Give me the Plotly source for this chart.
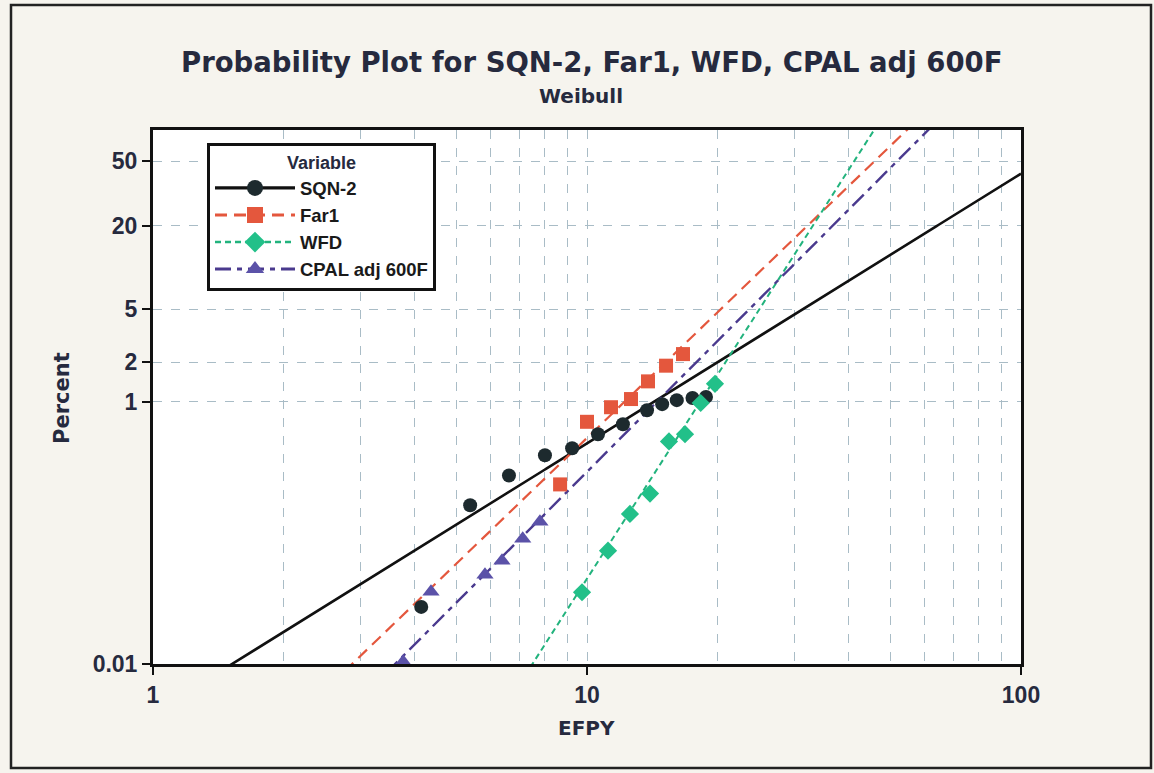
import numpy as np
import plotly.graph_objects as go

# ---------------- data ----------------
SERIES = ["SQN-2", "Far1", "WFD", "CPAL adj 600F"]

SQN2_X = [4.15, 5.38, 6.61, 8.00, 9.24, 10.6, 12.1, 13.75, 14.9, 16.1, 17.5, 18.8]
SQN2_P = [0.0273, 0.163, 0.275, 0.392, 0.443, 0.567, 0.676, 0.864, 0.96, 1.03, 1.07, 1.09]

FAR1_X = [8.67, 10.0, 11.36, 12.63, 13.82, 15.21, 16.64]
FAR1_P = [0.235, 0.705, 0.91, 1.05, 1.43, 1.88, 2.30]

WFD_X = [9.74, 11.18, 12.56, 13.97, 15.45, 16.82, 18.28, 19.72]
WFD_P = [0.0353, 0.0734, 0.140, 0.200, 0.50, 0.567, 0.98, 1.37]

CPAL_X = [3.77, 4.37, 5.82, 6.37, 7.11, 7.79]
CPAL_P = [0.0104, 0.0356, 0.048, 0.0615, 0.0906, 0.122]

# fitted Weibull parameters (shape, scale) of the drawn lines
FIT_SHAPE = [2.06, 3.19, 5.18, 3.32]
FIT_SCALE = [133.0, 51.6, 44.3, 57.9]

Y_TICKS = [0.01, 1, 2, 5, 20, 50]
Y_TICK_TEXT = ["0.01", "1", "2", "5", "20", "50"]
X_TICKS = [1, 10, 100]
X_TICK_TEXT = ["1", "10", "100"]
X_MINOR = [2, 3, 4, 5, 6, 7, 8, 9, 20, 30, 40, 50, 60, 70, 80, 90]

TITLE = "Probability Plot for SQN-2, Far1, WFD, CPAL adj 600F"
SUBTITLE = "Weibull"


def wb(pct):
    p = np.asarray(pct, dtype=float) / 100.0
    return np.log(-np.log(1.0 - p))


# ---------------- styles ----------------
COLORS_MK = ["#1d2a2e", "#e4573d", "#22c089", "#5b52a8"]
COLORS_LN = ["#111111", "#e4573d", "#22b37d", "#4a3a8e"]
SYMBOLS = ["circle", "square", "diamond", "triangle-up"]
DASHES = ["solid", "12px,7px", "6px,4px", "16px,6px,5px,6px"]
LWIDTH = [2.6, 2.2, 2.0, 2.4]
MSIZE = [14, 14, 14, 15]

xs_data = [SQN2_X, FAR1_X, WFD_X, CPAL_X]
ps_data = [SQN2_P, FAR1_P, WFD_P, CPAL_P]

fig = go.Figure()
xline = np.logspace(0, 2, 400)
for i, name in enumerate(SERIES):
    wline = FIT_SHAPE[i] * (np.log(xline) - np.log(FIT_SCALE[i]))
    fig.add_trace(go.Scatter(x=xline, y=wline, mode="lines", showlegend=False,
                             line=dict(color=COLORS_LN[i], width=LWIDTH[i], dash=DASHES[i]),
                             hoverinfo="skip"))
for i, name in enumerate(SERIES):
    fig.add_trace(go.Scatter(x=xs_data[i], y=wb(ps_data[i]), mode="markers", showlegend=False,
                             cliponaxis=False, name=name,
                             marker=dict(symbol=SYMBOLS[i], size=MSIZE[i], color=COLORS_MK[i],
                                         line=dict(width=0))))
for i, name in enumerate(SERIES):
    fig.add_trace(go.Scatter(x=[None], y=[None], mode="lines+markers", name=name,
                             line=dict(color=COLORS_LN[i], width=LWIDTH[i] + 0.6, dash=DASHES[i]),
                             marker=dict(symbol=SYMBOLS[i], size=MSIZE[i] + 2, color=COLORS_MK[i])))

W, H = 1154, 773
L, R, T, B = 153, 133, 130, 109
PW, PH = W - L - R, H - T - B


def ux(px):
    return (px - L) / PW


def vy(py):
    return (H - B - py) / PH


FONT = "Liberation Sans, Arial, sans-serif"
HFONT = "DejaVu Sans, Liberation Sans, sans-serif"
TXT = "#262a3e"
GRID = "#a9bcc6"
BG = "#f6f4ee"

fig.update_layout(
    width=W, height=H,
    margin=dict(l=L, r=R, t=T, b=B),
    paper_bgcolor=BG,
    plot_bgcolor="white",
    font=dict(family=FONT, color=TXT),
    xaxis=dict(type="log", range=[0, 2], tickvals=X_TICKS, ticktext=X_TICK_TEXT,
               ticks="outside", ticklen=8, tickwidth=2, tickcolor="#111",
               tickfont=dict(size=23, weight="bold", color=TXT),
               showline=True, linewidth=3, linecolor="#111", mirror=True,
               showgrid=True, gridcolor=GRID, griddash="dash", gridwidth=1.2,
               minor=dict(tickvals=X_MINOR, showgrid=True, gridcolor=GRID,
                          griddash="dash", gridwidth=1.2, ticks=""),
               zeroline=False),
    yaxis=dict(range=[float(wb(0.01)), 0.18], tickvals=list(wb(Y_TICKS)), ticktext=Y_TICK_TEXT,
               ticks="outside", ticklen=8, tickwidth=2, tickcolor="#111",
               tickfont=dict(size=23, weight="bold", color=TXT),
               showline=True, linewidth=3, linecolor="#111", mirror=True,
               showgrid=True, gridcolor=GRID, griddash="dash", gridwidth=1.2,
               zeroline=False),
    legend=dict(x=ux(207), y=vy(143), xanchor="left", yanchor="top",
                bgcolor="white", bordercolor="#111", borderwidth=3,
                font=dict(size=18.5, weight="bold", color="#1a1a1a", family=FONT),
                title=dict(text="Variable", side="top center",
                           font=dict(size=18, weight="bold", color=TXT, family=FONT)),
                itemwidth=80, tracegroupgap=0),
    annotations=[
        dict(text="<b>" + TITLE + "</b>", x=ux(591), y=vy(62), xref="paper", yref="paper",
             showarrow=False, xanchor="center", yanchor="middle",
             font=dict(size=27.5, color=TXT, family=HFONT)),
        dict(text="<b>" + SUBTITLE + "</b>", x=ux(581), y=vy(96), xref="paper", yref="paper",
             showarrow=False, xanchor="center", yanchor="middle",
             font=dict(size=20, color=TXT, family=HFONT)),
        dict(text="<b>Percent</b>", x=ux(62), y=vy(398), xref="paper", yref="paper",
             showarrow=False, textangle=-90, xanchor="center", yanchor="middle",
             font=dict(size=21, color=TXT, family=HFONT)),
        dict(text="<b>EFPY</b>", x=ux(586), y=vy(728), xref="paper", yref="paper",
             showarrow=False, xanchor="center", yanchor="middle",
             font=dict(size=20, color=TXT, family=HFONT)),
    ],
    shapes=[
        dict(type="rect", xref="paper", yref="paper",
             x0=ux(11), x1=ux(1151), y0=vy(768), y1=vy(5),
             line=dict(color="#222", width=2.5), layer="below"),
    ],
)

fig.write_html("out.html", config={"displayModeBar": False},
               post_script="document.body.style.margin='0';"
                           "document.body.style.background='" + BG + "';")
